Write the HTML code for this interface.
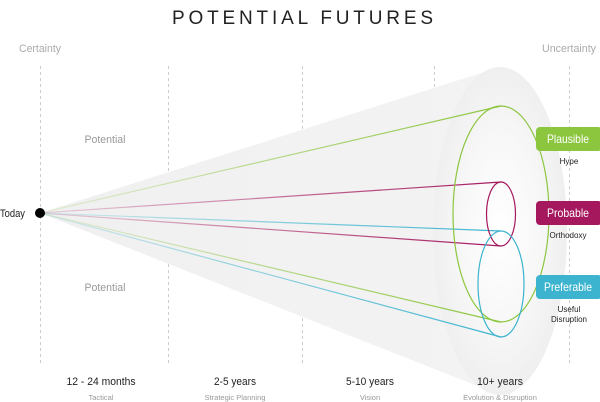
<!DOCTYPE html>
<html><head><style>
html,body{margin:0;padding:0;background:#fff;}
svg{display:block;font-family:"Liberation Sans",sans-serif;}
</style></head><body>
<svg width="600" height="402" viewBox="0 0 600 402" xmlns="http://www.w3.org/2000/svg">
<defs>
<linearGradient id="cone" x1="40" y1="0" x2="500" y2="0" gradientUnits="userSpaceOnUse">
<stop offset="0" stop-color="#f0f0f0"/><stop offset="1" stop-color="#f3f3f3"/>
</linearGradient>
<radialGradient id="ell" cx="0.5" cy="0.5" r="0.5">
<stop offset="0" stop-color="#ffffff"/><stop offset="0.6" stop-color="#f7f7f7"/><stop offset="1" stop-color="#efefef"/>
</radialGradient>
<linearGradient id="fg" x1="40" y1="0" x2="500" y2="0" gradientUnits="userSpaceOnUse"><stop offset="0" stop-color="#8cc63f" stop-opacity="0.15"/><stop offset="1" stop-color="#8cc63f"/></linearGradient>
<linearGradient id="fm" x1="40" y1="0" x2="500" y2="0" gradientUnits="userSpaceOnUse"><stop offset="0" stop-color="#a5185e" stop-opacity="0.15"/><stop offset="1" stop-color="#a5185e"/></linearGradient>
<linearGradient id="fb" x1="40" y1="0" x2="500" y2="0" gradientUnits="userSpaceOnUse"><stop offset="0" stop-color="#3cb4cf" stop-opacity="0.15"/><stop offset="1" stop-color="#3cb4cf"/></linearGradient>
</defs>
<text x="172" y="24" font-size="19" textLength="261" lengthAdjust="spacing" fill="#222">POTENTIAL FUTURES</text>
<text x="19" y="52" font-size="11" textLength="42" lengthAdjust="spacingAndGlyphs" fill="#aaa">Certainty</text>
<text x="542" y="52" font-size="11" textLength="54" lengthAdjust="spacingAndGlyphs" fill="#aaa">Uncertainty</text>
<g stroke="#ccc" stroke-dasharray="3,3" stroke-width="1">
<line x1="40.5" y1="66" x2="40.5" y2="366"/><line x1="168.5" y1="66" x2="168.5" y2="366"/>
<line x1="302.5" y1="66" x2="302.5" y2="366"/><line x1="434.5" y1="66" x2="434.5" y2="366"/>
<line x1="569.5" y1="66" x2="569.5" y2="366"/>
</g>
<polygon points="40,213 500,67 500,395" fill="url(#cone)"/>
<ellipse cx="500" cy="231" rx="67" ry="164" fill="url(#ell)"/>
<g fill="none" stroke-width="1.2">
<line x1="40" y1="213" x2="501" y2="106" stroke="url(#fg)"/>
<line x1="40" y1="213" x2="501" y2="322" stroke="url(#fg)"/>
<line x1="40" y1="213" x2="501" y2="182" stroke="url(#fm)"/>
<line x1="40" y1="213" x2="501" y2="246" stroke="url(#fm)"/>
<line x1="40" y1="213" x2="501" y2="231" stroke="url(#fb)"/>
<line x1="40" y1="213" x2="501" y2="337" stroke="url(#fb)"/>
<ellipse cx="501" cy="214" rx="48" ry="108" stroke="#8cc63f"/>
<ellipse cx="501" cy="214" rx="14.5" ry="32" stroke="#a5185e"/>
<ellipse cx="501" cy="284" rx="23" ry="53" stroke="#3cb4cf"/>
</g>
<circle cx="40" cy="213" r="5" fill="#000"/>
<text x="0" y="217" font-size="11" textLength="25" lengthAdjust="spacingAndGlyphs" fill="#222">Today</text>
<text x="105" y="143" text-anchor="middle" font-size="11" textLength="41" lengthAdjust="spacingAndGlyphs" fill="#999">Potential</text>
<text x="105" y="291" text-anchor="middle" font-size="11" textLength="41" lengthAdjust="spacingAndGlyphs" fill="#999">Potential</text>
<rect x="536" y="127" width="66" height="24" rx="4" fill="#8cc63f"/>
<text x="568" y="143" text-anchor="middle" font-size="12" textLength="42" lengthAdjust="spacingAndGlyphs" fill="#fff">Plausible</text>
<text x="569" y="164" text-anchor="middle" font-size="8" fill="#222">Hype</text>
<rect x="536" y="201" width="66" height="24" rx="4" fill="#a5185e"/>
<text x="568" y="217" text-anchor="middle" font-size="12" textLength="42" lengthAdjust="spacingAndGlyphs" fill="#fff">Probable</text>
<text x="568" y="238" text-anchor="middle" font-size="8" fill="#222">Orthodoxy</text>
<rect x="536" y="275" width="66" height="24" rx="4" fill="#3cb4cf"/>
<text x="568" y="291" text-anchor="middle" font-size="12" textLength="48" lengthAdjust="spacingAndGlyphs" fill="#fff">Preferable</text>
<text x="569" y="312" text-anchor="middle" font-size="8" fill="#222">Useful</text>
<text x="569" y="322" text-anchor="middle" font-size="8" fill="#222">Disruption</text>
<g font-size="11" fill="#222" text-anchor="middle">
<text x="101" y="385" textLength="69" lengthAdjust="spacingAndGlyphs">12 - 24 months</text>
<text x="235" y="385" textLength="42" lengthAdjust="spacingAndGlyphs">2-5 years</text>
<text x="370" y="385" textLength="48" lengthAdjust="spacingAndGlyphs">5-10 years</text>
<text x="500" y="385" textLength="46" lengthAdjust="spacingAndGlyphs">10+ years</text>
</g>
<g font-size="7.5" fill="#999" text-anchor="middle">
<text x="101" y="400">Tactical</text><text x="235" y="400">Strategic Planning</text>
<text x="370" y="400">Vision</text><text x="500" y="400">Evolution &amp; Disruption</text>
</g>
</svg>
</body></html>
